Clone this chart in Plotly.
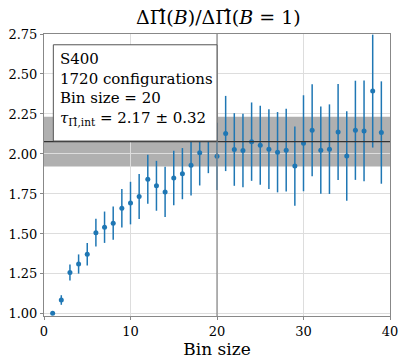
import plotly.graph_objects as go

bin_sizes = list(range(1, 40))
ratio = [1.004, 1.087, 1.259, 1.312, 1.373, 1.508, 1.542, 1.567, 1.661, 1.693,
         1.734, 1.842, 1.801, 1.763, 1.850, 1.877, 1.930, 2.008, 2.100, 1.985,
         2.128, 2.028, 2.022, 2.077, 2.054, 2.030, 2.011, 2.024, 1.924, 2.067,
         2.148, 2.024, 2.030, 2.138, 1.987, 2.148, 2.144, 2.393, 2.134]
ratio_err = [0.01, 0.03, 0.05, 0.06, 0.07, 0.087, 0.098, 0.104, 0.12, 0.133,
             0.14, 0.153, 0.156, 0.157, 0.17, 0.16, 0.19, 0.205, 0.22, 0.21,
             0.235, 0.227, 0.23, 0.245, 0.247, 0.249, 0.251, 0.258, 0.248, 0.30,
             0.288, 0.273, 0.28, 0.30, 0.28, 0.31, 0.315, 0.353, 0.32]

plateau = 2.077
plateau_err = 0.155
chosen_bin = 20

legend_lines = ["S400", "1720 configurations", "Bin size = 20",
                "<i>τ</i><sub>Π̂,int</sub> = 2.17 ± 0.32"]

font_family = "DejaVu Serif, Liberation Serif, serif"
blue = "#1f77b4"

fig = go.Figure()
fig.add_trace(go.Scatter(
    x=bin_sizes, y=ratio, mode="markers",
    marker=dict(color=blue, size=5),
    error_y=dict(type="data", array=ratio_err, visible=True, color=blue,
                 thickness=1.5, width=0),
    showlegend=False))

# plateau band and line
fig.add_shape(type="rect", xref="paper", yref="y", x0=0, x1=1,
              y0=plateau - plateau_err, y1=plateau + plateau_err,
              fillcolor="#b0b0b0", line_width=0, layer="between")
fig.add_shape(type="line", xref="paper", yref="y", x0=0, x1=1,
              y0=plateau, y1=plateau, line=dict(color="#333333", width=1.2),
              layer="above")
fig.add_shape(type="line", xref="x", yref="paper", x0=chosen_bin, x1=chosen_bin,
              y0=0, y1=1, line=dict(color="#888888", width=1.2), layer="above")

# text box
fig.add_shape(type="rect", xref="paper", yref="paper",
              x0=0.027, x1=0.5, y0=(322 - 143.3) / 288, y1=(322 - 45) / 288,
              fillcolor="white", line=dict(color="#555555", width=1),
              layer="above")
fig.add_annotation(xref="paper", yref="paper", x=0.04, y=(322 - 48) / 288,
                   xanchor="left", yanchor="top", align="left", showarrow=False,
                   text="<br>".join(legend_lines),
                   font=dict(family=font_family, size=15, color="black"))

fig.update_layout(
    width=406, height=360,
    margin=dict(l=42, r=8, t=34, b=38),
    paper_bgcolor="white", plot_bgcolor="white",
    title=dict(text="ΔΠ̂(<i>B</i>)/ΔΠ̂(<i>B</i> = 1)", x=0.538, xanchor="center",
               y=1 - 17 / 360, yanchor="middle",
               font=dict(family=font_family, size=19, color="black")),
    font=dict(family=font_family, size=13, color="black"),
)
fig.update_xaxes(range=[0, 40], tickvals=[0, 10, 20, 30, 40],
                 showgrid=True, gridcolor="#dddddd", gridwidth=1,
                 showline=True, linecolor="#888888", linewidth=1, mirror=True,
                 ticks="outside", ticklen=3, tickcolor="#888888",
                 zeroline=False,
                 title=dict(text="Bin size", font=dict(size=17), standoff=2))
fig.update_yaxes(range=[0.987, 2.75],
                 tickvals=[1.0, 1.25, 1.5, 1.75, 2.0, 2.25, 2.5, 2.75],
                 tickformat=".2f",
                 showgrid=True, gridcolor="#dddddd", gridwidth=1,
                 showline=True, linecolor="#888888", linewidth=1, mirror=True,
                 ticks="outside", ticklen=3, tickcolor="#888888",
                 zeroline=False)

fig.write_html("out.html")
